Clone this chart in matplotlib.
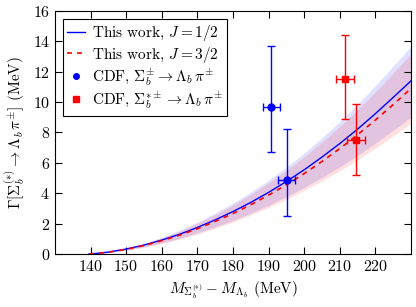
import matplotlib
matplotlib.use('Agg')
import matplotlib.pyplot as plt

# mass difference grid (MeV)
q = [139.6, 142, 145, 150, 155, 160, 165, 170, 175, 180,
     185, 190, 195, 200, 205, 210, 215, 220, 225, 230]

# J = 1/2 curve and band
g_half = [0, 0.04, 0.12, 0.32, 0.58, 0.91, 1.29, 1.74, 2.24, 2.79,
          3.39, 4.05, 4.77, 5.54, 6.38, 7.27, 8.22, 9.24, 10.31, 11.40]
g_half_hi = [0, 0.05, 0.14, 0.38, 0.70, 1.09, 1.55, 2.09, 2.69, 3.35,
             4.07, 4.86, 5.72, 6.65, 7.66, 8.72, 9.86, 11.09, 12.37, 13.70]
g_half_lo = [0, 0.03, 0.09, 0.25, 0.46, 0.72, 1.02, 1.37, 1.77, 2.20,
             2.68, 3.20, 3.77, 4.38, 5.04, 5.74, 6.49, 7.30, 8.14, 9.00]

# J = 3/2 curve and band
g_3half = [0, 0.04, 0.11, 0.30, 0.55, 0.87, 1.23, 1.66, 2.14, 2.66,
           3.24, 3.87, 4.55, 5.29, 6.09, 6.94, 7.85, 8.82, 9.84, 10.90]
g_3half_hi = [0, 0.05, 0.13, 0.36, 0.67, 1.05, 1.49, 2.01, 2.59, 3.22,
              3.92, 4.68, 5.51, 6.40, 7.37, 8.40, 9.50, 10.67, 11.91, 13.19]
g_3half_lo = [0, 0.03, 0.09, 0.24, 0.43, 0.69, 0.97, 1.31, 1.69, 2.10,
              2.56, 3.06, 3.59, 4.18, 4.81, 5.48, 6.20, 6.97, 7.77, 8.61]

# CDF data
sb_x = [190.8, 195.1]
sb_xerr = [2.5, 2.4]
sb_y = [9.7, 4.9]
sb_yerr_lo = [3.0, 2.4]
sb_yerr_hi = [4.0, 3.3]

sbs_x = [211.5, 214.5]
sbs_xerr = [2.5, 2.6]
sbs_y = [11.5, 7.5]
sbs_yerr_lo = [2.6, 2.3]
sbs_yerr_hi = [2.9, 2.4]

plt.rcParams['font.family'] = 'serif'
plt.rcParams['font.serif'] = ['cmr10']
plt.rcParams['mathtext.fontset'] = 'cm'
plt.rcParams['axes.formatter.use_mathtext'] = True

fig = plt.figure(figsize=(4.16, 3.07), dpi=100)
ax = fig.add_axes([0.132, 0.173, 0.856, 0.791])

ax.fill_between(q, g_half_lo, g_half_hi, color='blue', alpha=0.12, lw=0)
ax.fill_between(q, g_3half_lo, g_3half_hi, color='red', alpha=0.12, lw=0)
l1, = ax.plot(q, g_half, color='blue', lw=1.0)
l2, = ax.plot(q, g_3half, color='red', lw=1.2, ls='--', dashes=(3, 3))

eb1 = ax.errorbar(sb_x, sb_y, xerr=sb_xerr, yerr=[sb_yerr_lo, sb_yerr_hi],
                  fmt='o', color='blue', ms=5, capsize=3, lw=1.0)
eb2 = ax.errorbar(sbs_x, sbs_y, xerr=sbs_xerr, yerr=[sbs_yerr_lo, sbs_yerr_hi],
                  fmt='s', color='red', ms=5, capsize=3, lw=1.0)

ax.set_xlim(130, 230)
ax.set_ylim(0, 16)
ax.set_xticks(range(140, 230, 10))
ax.set_yticks(range(0, 17, 2))
ax.tick_params(direction='in', top=True, right=True, labelsize=11.5, length=5)

ax.set_xlabel(r'$M_{\Sigma_b^{(*)}} - M_{\Lambda_b}$ (MeV)', fontsize=11)
ax.set_ylabel(r'$\Gamma[\Sigma_b^{(*)}\to\Lambda_b\,\pi^{\pm}]$ (MeV)', fontsize=11)

# legend shows only the markers for the data points
handles = [l1, l2, eb1[0], eb2[0]]
labels = [r'This work, $J=1/2$', r'This work, $J=3/2$',
          r'CDF, $\Sigma_b^{\pm}\to\Lambda_b\,\pi^{\pm}$',
          r'CDF, $\Sigma_b^{*\pm}\to\Lambda_b\,\pi^{\pm}$']
leg = ax.legend(handles, labels, loc='upper left', fontsize=11, fancybox=False,
                edgecolor='black', framealpha=1, handlelength=1.2,
                handletextpad=0.4, labelspacing=0.1, markerscale=0.8,
                borderaxespad=0.5, borderpad=0.3)
leg.get_frame().set_linewidth(0.8)

fig.savefig('out.png', dpi=100)
